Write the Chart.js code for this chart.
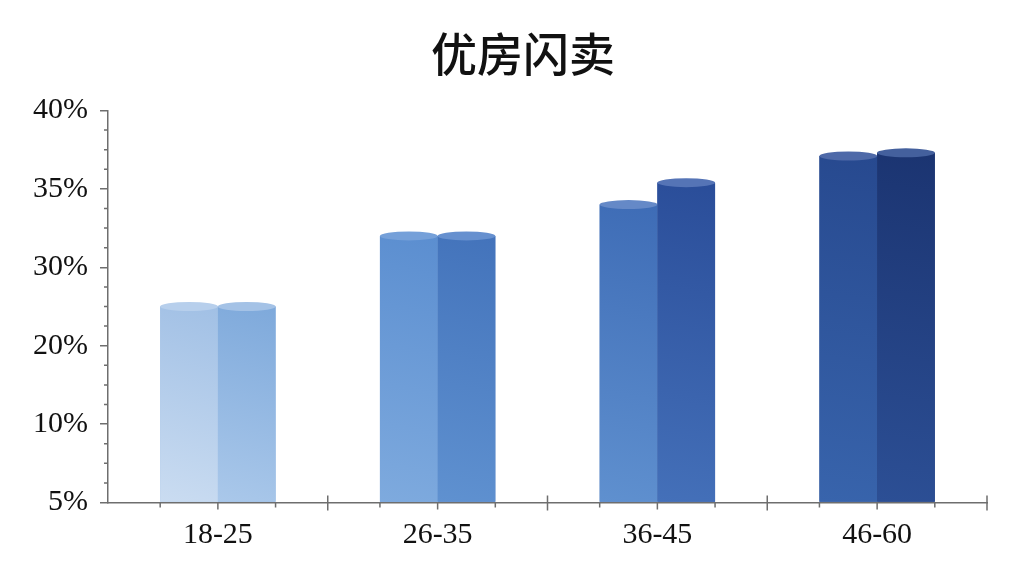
<!DOCTYPE html>
<html>
<head>
<meta charset="utf-8">
<script src="https://cdn.jsdelivr.net/npm/chart.js@4"></script>
<style>
  html, body { margin: 0; background: #fff; }
  #wrap { width: 1024px; height: 576px; }
</style>
</head>
<body>
<div id="wrap"><canvas id="chart"></canvas></div>
<script>
// data (percent)
const chartTitle = '优房闪卖';
const categories = ['18-25', '26-35', '36-45', '46-60'];
const tickValues = [5, 10, 20, 30, 35, 40];
const tickLabels = ['5%', '10%', '20%', '30%', '35%', '40%'];
const leftSeries = [25, 32, 34, 37.1];
const rightSeries = [25, 32, 35.4, 37.3];

// colours per bar: [light, dark, cap]
const leftColors = [
    ['#cadcf1', '#a1c0e5', '#b7cfec'],
    ['#7eaade', '#5b8ed0', '#75a0d9'],
    ['#5f90cf', '#3e6cb6', '#6589c7'],
    ['#3864ac', '#27498f', '#4e69a8']
];
const rightColors = [
    ['#aac8ea', '#7ea9db', '#a4c2e6'],
    ['#5f91d0', '#4373bb', '#6690cf'],
    ['#4470b9', '#2a4d99', '#5574b6'],
    ['#2c4f95', '#1b3471', '#44609d']
];

// the y axis has evenly spaced ticks with uneven labels, map a value onto it
function toAxis(v) {
    for (let i = 0; i < tickValues.length - 1; i++) {
        if (v <= tickValues[i + 1]) {
            return i + (v - tickValues[i]) / (tickValues[i + 1] - tickValues[i]);
        }
    }
    return tickValues.length - 1;
}

const axisColor = '#6e6e6e';

// title drawn by hand: the original sits a bit right of the canvas centre
const titlePlugin = {
    id: 'bigTitle',
    afterDraw(chart) {
        const ctx = chart.ctx;
        ctx.save();
        ctx.font = '500 46px "Noto Sans CJK SC"';
        ctx.fillStyle = '#111';
        ctx.textAlign = 'center';
        ctx.textBaseline = 'middle';
        ctx.fillText(chartTitle, chart.width / 2 + 11, 54);
        ctx.restore();
    }
};

// cylinders: gradient body + elliptical cap on each bar
const cylinderPlugin = {
    id: 'cylinders',
    afterDatasetsDraw(chart) {
        const ctx = chart.ctx;
        chart.data.datasets.forEach((ds, di) => {
            const colors = di === 0 ? leftColors : rightColors;
            chart.getDatasetMeta(di).data.forEach((el, i) => {
                const { x, y, base, width } = el.getProps(['x', 'y', 'base', 'width'], true);
                const x0 = x - width / 2;
                const g = ctx.createLinearGradient(x0, base, x0 + width, y);
                g.addColorStop(0, colors[i][0]);
                g.addColorStop(1, colors[i][1]);
                ctx.save();
                ctx.fillStyle = g;
                ctx.fillRect(x0, y, width, base - y);
                ctx.beginPath();
                ctx.ellipse(x, y, width / 2, 4.5, 0, 0, Math.PI * 2);
                ctx.fillStyle = colors[i][2];
                ctx.fill();
                ctx.restore();
            });
        });
    }
};

// minor ticks on y, bar edge ticks and category ticks on x
const ticksPlugin = {
    id: 'extraTicks',
    afterDraw(chart) {
        const ctx = chart.ctx;
        const xs = chart.scales.x;
        const ys = chart.scales.y;
        const bottom = ys.bottom;
        ctx.save();
        ctx.strokeStyle = axisColor;
        ctx.lineWidth = 1.5;
        ctx.beginPath();
        for (let i = 0; i < tickValues.length - 1; i++) {
            for (let k = 1; k < 4; k++) {
                const py = ys.getPixelForValue(i + k / 4);
                ctx.moveTo(xs.left - 4, py);
                ctx.lineTo(xs.left, py);
            }
        }
        for (let i = 1; i <= categories.length; i++) {
            const px = xs.getPixelForValue(i - 0.5);
            ctx.moveTo(px, bottom - 7);
            ctx.lineTo(px, bottom + 8);
        }
        chart.data.datasets.forEach((ds, di) => {
            chart.getDatasetMeta(di).data.forEach((el) => {
                const { x, width } = el.getProps(['x', 'width'], true);
                const edges = di === 0 ? [x - width / 2] : [x - width / 2, x + width / 2];
                edges.forEach((ex, j) => {
                    const len = di === 1 && j === 0 ? 7 : 5;
                    ctx.moveTo(ex, bottom);
                    ctx.lineTo(ex, bottom + len);
                });
            });
        });
        ctx.stroke();
        ctx.restore();
    }
};

const ctx = document.getElementById('chart').getContext('2d');
const chart = new Chart(ctx, {
    type: 'bar',
    data: {
        labels: categories,
        datasets: [{
            data: leftSeries.map(toAxis),
            backgroundColor: leftColors.map(c => c[1]),
            borderWidth: 0
        }, {
            data: rightSeries.map(toAxis),
            backgroundColor: rightColors.map(c => c[1]),
            borderWidth: 0
        }]
    },
    options: {
        responsive: true,
        maintainAspectRatio: false,
        animation: false,
        categoryPercentage: 0.525,
        barPercentage: 1,
        layout: {
            padding: { left: 33, right: 37, top: 110.5, bottom: 0 }
        },
        plugins: {
            legend: { display: false },
            tooltip: { enabled: false },
            title: { display: false }
        },
        scales: {
            x: {
                offset: true,
                grid: { display: false },
                border: { color: axisColor, width: 1.5 },
                ticks: {
                    color: '#111',
                    padding: 7,
                    font: { family: '"Liberation Serif"', size: 30 }
                },
                afterFit: (s) => { s.height = 73.5; }
            },
            y: {
                min: 0,
                max: tickValues.length - 1,
                grid: {
                    drawOnChartArea: false,
                    tickLength: 8,
                    color: axisColor,
                    lineWidth: 1.5
                },
                border: { color: axisColor, width: 1.5 },
                ticks: {
                    stepSize: 1,
                    color: '#111',
                    padding: 12,
                    font: { family: '"Liberation Serif"', size: 30 },
                    callback: (v) => tickLabels[v]
                },
                afterFit: (s) => { s.width = 75; }
            }
        }
    },
    plugins: [cylinderPlugin, ticksPlugin, titlePlugin]
});
</script>
</body>
</html>
